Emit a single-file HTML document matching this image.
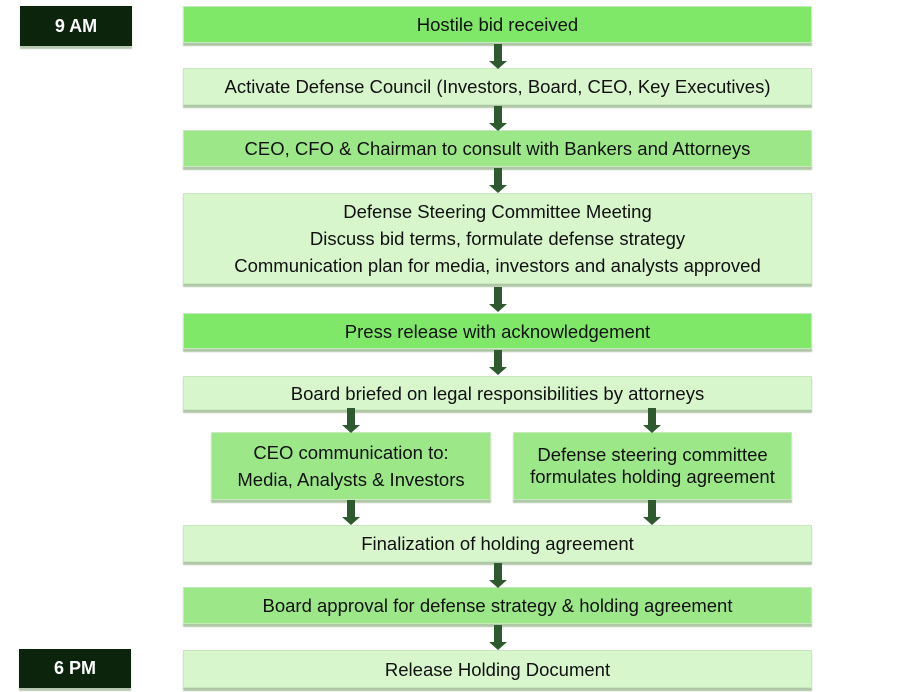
<!DOCTYPE html>
<html><head><meta charset="utf-8"><style>
body{margin:0;width:902px;height:692px;background:#fff;position:relative;overflow:hidden;font-family:"Liberation Sans",sans-serif;}
.b{position:absolute;box-sizing:border-box;display:flex;flex-direction:column;align-items:center;justify-content:center;text-align:center;color:#111;font-size:18.5px;border:1px solid #c8e8c0;box-shadow:0 3px 1px #b0c8a8;line-height:27px;}
.br{background:#80e868;}
.bm{background:#9ce888;}
.bl{background:#d8f6cc;}
.t{position:absolute;background:#0b240b;color:#fff;font-weight:bold;font-size:18px;display:flex;align-items:center;justify-content:center;box-shadow:0 3px 1px #b8c8b0;}
.a{position:absolute;width:18px;height:25px;}
.a:before{content:"";position:absolute;left:5px;top:0;width:8px;height:17px;background:#2f5a2f;}
.a:after{content:"";position:absolute;left:0;top:17px;border-left:9px solid transparent;border-right:9px solid transparent;border-top:8px solid #2f5a2f;}
</style></head><body>
<div class="t" style="left:20px;top:6px;width:112px;height:40px">9 AM</div>
<div class="t" style="left:19px;top:649px;width:112px;height:39px">6 PM</div>

<div class="b br" style="left:183px;top:6px;width:629px;height:37px">Hostile bid received</div>
<div class="b bl" style="left:183px;top:68px;width:629px;height:37px">Activate Defense Council (Investors, Board, CEO, Key Executives)</div>
<div class="b bm" style="left:183px;top:130px;width:629px;height:37px">CEO, CFO &amp; Chairman to consult with Bankers and Attorneys</div>
<div class="b bl" style="left:183px;top:193px;width:629px;height:91px"><div>Defense Steering Committee Meeting</div><div>Discuss bid terms, formulate defense strategy</div><div>Communication plan for media, investors and analysts approved</div></div>
<div class="b br" style="left:183px;top:313px;width:629px;height:36px">Press release with acknowledgement</div>
<div class="b bl" style="left:183px;top:376px;width:629px;height:34px">Board briefed on legal responsibilities by attorneys</div>
<div class="b bm" style="left:211px;top:432px;width:280px;height:68px"><div>CEO communication to:</div><div>Media, Analysts &amp; Investors</div></div>
<div class="b bm" style="left:513px;top:432px;width:279px;height:68px;line-height:22px"><div>Defense steering committee</div><div>formulates holding agreement</div></div>
<div class="b bl" style="left:183px;top:525px;width:629px;height:37px">Finalization of holding agreement</div>
<div class="b bm" style="left:183px;top:587px;width:629px;height:37px">Board approval for defense strategy &amp; holding agreement</div>
<div class="b bl" style="left:183px;top:650px;width:629px;height:38px">Release Holding Document</div>

<div class="a" style="left:489px;top:44px"></div>
<div class="a" style="left:489px;top:106px"></div>
<div class="a" style="left:489px;top:168px"></div>
<div class="a" style="left:489px;top:287px"></div>
<div class="a" style="left:489px;top:350px"></div>
<div class="a" style="left:342px;top:408px"></div>
<div class="a" style="left:643px;top:408px"></div>
<div class="a" style="left:342px;top:500px"></div>
<div class="a" style="left:643px;top:500px"></div>
<div class="a" style="left:489px;top:563px"></div>
<div class="a" style="left:489px;top:625px"></div>
</body></html>
